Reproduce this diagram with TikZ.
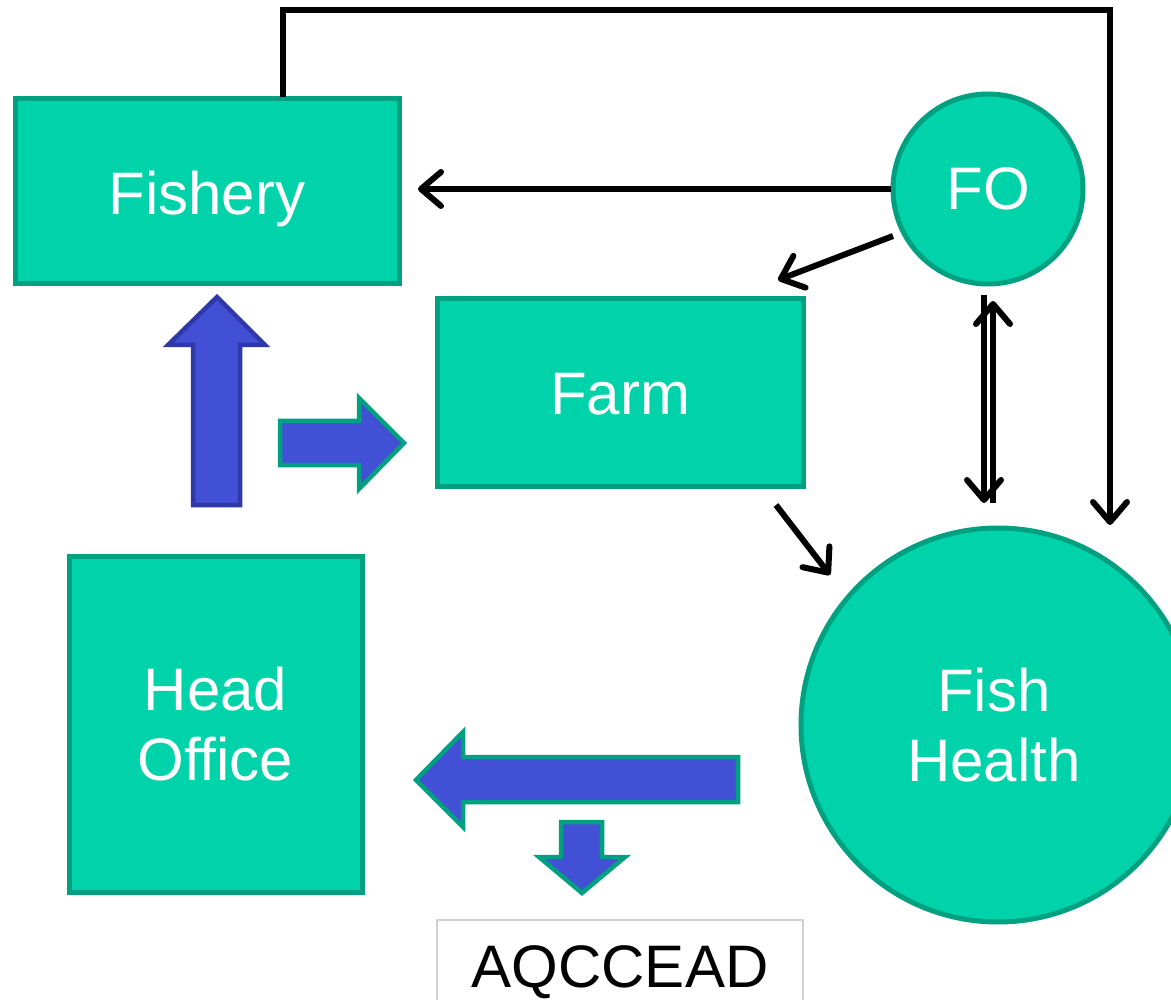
\documentclass[tikz,border=0pt]{standalone}
\usepackage{fontspec}
\setmainfont{Liberation Sans}
\usetikzlibrary{arrows.meta}
\definecolor{tealfill}{RGB}{0,210,170}
\definecolor{tealline}{RGB}{0,160,128}
\definecolor{bluefill}{RGB}{66,80,214}
\definecolor{blueline}{RGB}{46,56,168}
\newcommand{\basetext}[2]{\raisebox{-#1pt}[0pt][0pt]{#2}}
\begin{document}
\begin{tikzpicture}[x=1pt,y=-1pt,
  box/.style={draw=tealline,fill=tealfill,line width=5pt,inner sep=0pt,text=white,
    font=\fontsize{60}{70}\selectfont},
  multibox/.style={box,align=center},
  circ/.style={multibox,circle},
  conn/.style={line width=6pt,-{Straight Barb[length=20pt,width=34pt,round]}},
  blockarrow/.style={fill=bluefill,draw=tealline,line width=4.5pt,line join=miter},
  labelbox/.style={draw=black!18,fill=white,line width=2pt,inner sep=0pt,
    font=\fontsize{60}{70}\selectfont}]
\useasboundingbox (0,0) rectangle (1171,1000);
\begin{scope}
\clip (0,0) rectangle (1171,1000);
% nodes
\node[box,minimum width=384pt,minimum height=185pt] (fishery) at (207,191.5) {\basetext{23.5}{Fishery}};
\node[box,minimum width=366pt,minimum height=187pt] (farm) at (620,392.5) {\basetext{22.5}{Farm}};
\node[multibox,minimum width=293pt,minimum height=336pt] (head) at (215.5,724) {Head\\Office};
\node[circ,minimum size=190pt] (fo) at (988,189) {FO};
\node[circ,minimum size=394pt] (fh) at (998,725) {\hspace*{-8pt}Fish\\\hspace*{-8pt}Health};
\node[labelbox,minimum width=366pt,minimum height=90pt] (aq) at (620,965) {\basetext{22}{AQCCEAD}};
\end{scope}
% free ends of connectors
\coordinate (topstart) at (283,97);
\coordinate (topend) at (1110,525);
\coordinate (fyend) at (418,188);
\coordinate (fofar) at (893,236);
\coordinate (farmend) at (778,280);
\coordinate (farmout) at (776,505);
\coordinate (fhin) at (830,575);
\coordinate (dn1) at (984,295);
\coordinate (dn2) at (984,503);
\coordinate (up1) at (993,503);
\coordinate (up2) at (993,301);
% connectors
\draw[conn,line join=miter] (topstart) -- (283,10) -- (1110,10) -- (topend);
\draw[conn] (fo.west) -- (fo.west -| fyend);
\draw[conn] (fofar) -- (farmend);
\draw[conn] (farmout) -- (fhin);
\draw[conn] (dn1) -- (dn2);
\draw[conn] (up1) -- (up2);
% block arrows
\draw[blockarrow,draw=blueline] (193,505) -- (193,345) -- (168,345) -- (217,297) -- (265,345) -- (240,345) -- (240,505) -- cycle;
\draw[blockarrow] (280,421) -- (359,421) -- (359,398) -- (404,443) -- (359,489) -- (359,465) -- (280,465) -- cycle;
\draw[blockarrow] (738,757) -- (463,757) -- (463,732) -- (416,780) -- (463,827) -- (463,802) -- (738,802) -- cycle;
\draw[blockarrow] (561,822) -- (602,822) -- (602,857) -- (625,857) -- (582,893) -- (539,857) -- (561,857) -- cycle;
\end{tikzpicture}
\end{document}
